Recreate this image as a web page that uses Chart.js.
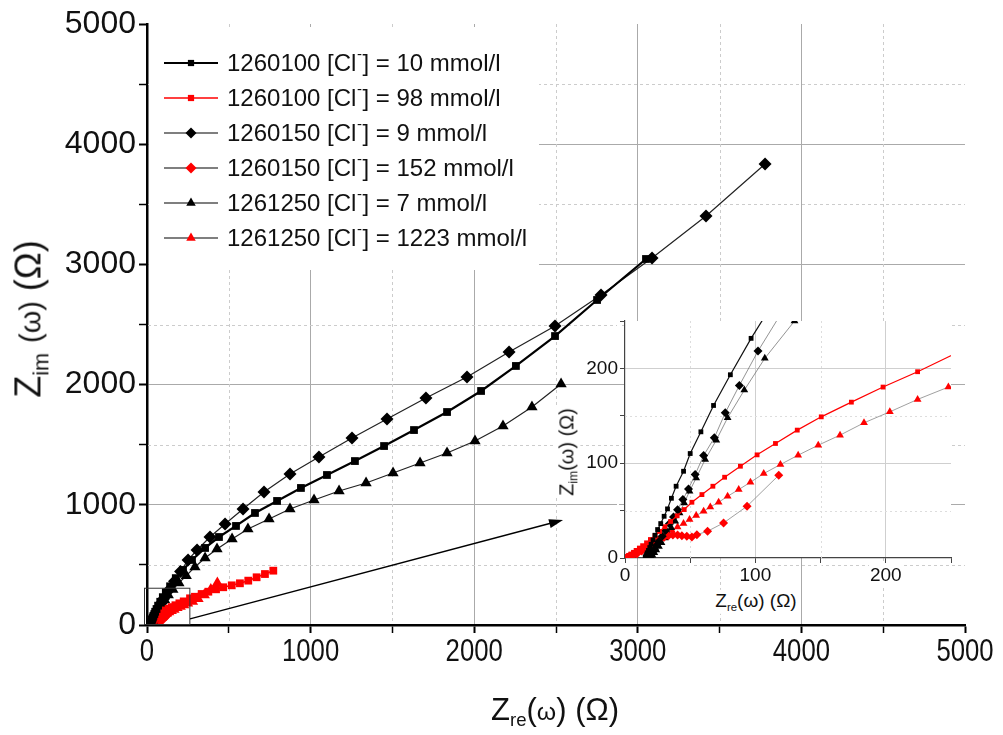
<!DOCTYPE html>
<html>
<head>
<meta charset="utf-8">
<script src="https://cdn.jsdelivr.net/npm/chart.js@4.4.1/dist/chart.umd.min.js"></script>
<style>
  body { margin: 0; background: #fff; }
  #wrap { position: relative; width: 1003px; height: 735px; overflow: hidden; }
  #main { position: absolute; left: 0; top: 0; }
  #inset { position: absolute; left: 540px; top: 300px; }
  .ttl { position: absolute; white-space: nowrap; color: #111; font-family: "Liberation Sans", Arial, sans-serif; transform: translate(-50%, -50%); line-height: 1; }
  .ttl sub { font-size: 60%; vertical-align: -0.35em; }
  .ttl .w { font-size: 80%; }
  .rot { transform: translate(-50%, -50%) rotate(-90deg); }
  .bg { background: #fff; padding: 1px 2px; }
</style>
</head>
<body>
<div id="wrap">
  <canvas id="main" width="1003" height="735"></canvas>
  <canvas id="inset" width="430" height="320"></canvas>
  <div class="ttl" style="left:555px;top:712px;font-size:31px;">Z<sub>re</sub>(<span class="w">ω</span>) (Ω)</div>
  <div class="ttl rot" style="left:31px;top:319px;font-size:36px;">Z<sub>im</sub> <span class="w">(ω)</span> (Ω)</div>
  <div class="ttl bg" style="left:756px;top:602px;font-size:19px;">Z<sub>re</sub>(ω) (Ω)</div>
  <div class="ttl rot bg" style="left:568px;top:452px;font-size:20px;">Z<sub>im</sub>(ω) (Ω)</div>
</div>
<script>
// impedance data, Z_re / Z_im in Ohm
const s1Re = [15.5, 16, 16.5, 17, 18, 19, 20, 21.5, 23, 25, 27.4, 30, 32.6, 35.6, 39.2, 44.9, 50, 58.2, 67.9, 80.8, 96.7, 115, 141, 176, 220, 275, 355, 440, 544, 660, 795, 941, 1100, 1271, 1449, 1632, 1834, 2042, 2255, 2494, 2751, 3050];
const s1Im = [1, 2, 3.5, 5.5, 8, 11, 14.5, 19, 24, 30, 36.3, 44, 51.8, 63, 75.7, 91.5, 110.2, 133.1, 160.9, 193.3, 231.7, 272, 322, 390, 458, 541, 641, 732, 824, 932, 1032, 1140, 1248, 1364, 1489, 1622, 1772, 1947, 2155, 2404, 2704, 3045];

const s2Re = [1, 1.8, 3, 4.5, 6.5, 8.5, 11, 13.5, 16.5, 19.5, 23, 26.5, 30.5, 35, 40, 45.4, 51.3, 59, 67.4, 76.4, 88.5, 101.3, 115.4, 132.1, 150.5, 173.6, 197.9, 224.4, 263, 293, 334, 375, 422, 466, 518, 568, 619, 670, 721, 772];
const s2Im = [0.8, 1.6, 2.8, 4.2, 6, 8, 10.5, 13, 16, 19.5, 23.5, 28, 33, 38.5, 44.5, 51.1, 58.8, 66.9, 75.7, 85.2, 96.8, 108.8, 120.8, 134.9, 148.9, 164.4, 180.3, 196.5, 222, 235, 258, 277, 297, 314, 330, 347, 369, 397, 424, 452];

const s3Re = [18.5, 19, 20, 21, 22.5, 24, 26, 28.5, 31, 34, 37.2, 40.3, 44.4, 48.7, 53.8, 60.3, 68.5, 76.9, 87.7, 102, 135, 168, 205, 251, 306, 385, 477, 587, 715, 874, 1051, 1253, 1467, 1705, 1956, 2213, 2494, 2775, 3087, 3417, 3778];
const s3Im = [1, 2, 3.5, 6, 9, 13, 17.5, 23, 29, 36, 43.3, 51, 61.6, 72.9, 88, 108.1, 126.8, 153.2, 182, 218.3, 292, 365, 445, 541, 624, 732, 840, 965, 1106, 1256, 1398, 1556, 1714, 1889, 2063, 2271, 2487, 2745, 3053, 3403, 3835];

const s4Re = [1.5, 3, 5.1, 9, 12.8, 16.7, 20.5, 23.8, 26.9, 30, 33.3, 36.7, 40.3, 43.6, 47.4, 51.3, 55.1, 63.3, 75.6, 93.6, 117.9];
const s4Im = [0.5, 1, 1.8, 4.2, 7.4, 10.6, 13.7, 16.5, 19.4, 21.8, 23.6, 24.3, 24.3, 23.6, 22.9, 22.2, 24.6, 28.2, 37, 54.6, 87.3];

const s5Re = [19, 20, 21, 22.5, 24, 26, 28, 30.5, 33, 35.5, 38.5, 41.8, 45.4, 49.5, 54.6, 61.5, 70, 78.7, 91.5, 107.2, 130, 158, 195, 240, 293, 355, 428, 520, 617, 746, 874, 1021, 1174, 1339, 1504, 1669, 1834, 2005, 2176, 2353, 2531];
const s5Im = [0.5, 1.5, 3, 5.5, 8.5, 12, 16, 21, 26, 32, 38.7, 47.5, 58.1, 70.4, 84.5, 103.9, 124.3, 147.9, 177.1, 210.6, 250, 295, 350, 410, 483, 557, 632, 715, 799, 882, 965, 1040, 1115, 1181, 1265, 1348, 1431, 1531, 1656, 1814, 2005];

const s6Re = [1.5, 3, 5, 7, 9, 11, 13.5, 16, 19, 22, 25, 28.5, 32, 36, 40.3, 44.9, 49.5, 54.6, 60.3, 65.4, 71.8, 78.7, 87.2, 96.2, 106.4, 119.2, 132.8, 148.2, 164.9, 183.3, 203.1, 224.4, 248, 278, 312, 350, 390, 430];
const s6Im = [0.7, 1.6, 2.8, 4, 5.5, 7, 9, 11, 13.5, 16, 19, 22, 25.5, 29, 32.7, 36.3, 40.5, 44.7, 49.3, 53.9, 58.8, 65.1, 72.2, 79.9, 89.1, 98.6, 108.5, 119, 129.6, 142.6, 154.2, 167.3, 180.3, 196, 218, 250, 295, 350];

const samples = ['1260100', '1260100', '1260150', '1260150', '1261250', '1261250'];
const chloride = ['10', '98', '9', '152', '7', '1223'];

const mainTicks = [0, 1000, 2000, 3000, 4000, 5000];
const insetTicks = [0, 100, 200];

// zoom box and arrow (data coordinates of main plot)
const zoomBox = [0, 0, 265, 310];
const arrowFrom = [263, 50];
const arrowTo = [2543, 874];

const RED = '#ff0000';
const pts = (xs, ys) => xs.map((v, i) => ({ x: v, y: ys[i] }));

const styles = [
  { shape: 'rect',    fill: '#000', line: '#000',  lw: 2.2, ilw: 1.2, iline: '#111', r: 5.5, ir: 3.4, lr: 4.4 },
  { shape: 'rect',    fill: RED,    line: RED,     lw: 1.6, ilw: 1.2, iline: RED,    r: 5.5, ir: 3.4, lr: 4.4 },
  { shape: 'rectRot', fill: '#000', line: '#222',  lw: 1.2, ilw: 0.8, iline: '#777', r: 6.5, ir: 4.5, lr: 5.5 },
  { shape: 'rectRot', fill: RED,    line: '#555',  lw: 1.0, ilw: 0.8, iline: '#888', r: 6.5, ir: 4.5, lr: 5.5 },
  { shape: 'triangle',fill: '#000', line: '#222',  lw: 1.2, ilw: 0.8, iline: '#777', r: 6.5, ir: 4.5, lr: 5.5 },
  { shape: 'triangle',fill: RED,    line: '#555',  lw: 1.0, ilw: 0.8, iline: '#888', r: 6.5, ir: 4.5, lr: 5.5 }
];
const series = [pts(s1Re, s1Im), pts(s2Re, s2Im), pts(s3Re, s3Im), pts(s4Re, s4Im), pts(s5Re, s5Im), pts(s6Re, s6Im)];

function makeSets(inset) {
  return series.map((d, i) => {
    const s = styles[i];
    return {
      label: samples[i] + ' [Cl-] = ' + chloride[i] + ' mmol/l',
      data: d,
      showLine: true,
      borderColor: inset ? s.iline : s.line,
      borderWidth: inset ? s.ilw : s.lw,
      pointStyle: s.shape,
      pointRadius: inset ? s.ir : s.r,
      pointBackgroundColor: s.fill,
      pointBorderColor: s.fill,
      pointBorderWidth: 0,
      tension: 0
    };
  });
}

function marker(ctx, shape, cx, cy, r, color) {
  ctx.fillStyle = color;
  ctx.beginPath();
  if (shape === 'rect') {
    const h = r * Math.SQRT1_2;
    ctx.rect(cx - h, cy - h, 2 * h, 2 * h);
  } else if (shape === 'rectRot') {
    ctx.moveTo(cx, cy - r); ctx.lineTo(cx + r, cy); ctx.lineTo(cx, cy + r); ctx.lineTo(cx - r, cy);
  } else {
    ctx.moveTo(cx, cy - r); ctx.lineTo(cx + r * 0.866, cy + r / 2); ctx.lineTo(cx - r * 0.866, cy + r / 2);
  }
  ctx.closePath();
  ctx.fill();
}

// minor grid, legend box with entries
const mainDecor = {
  id: 'mainDecor',
  beforeDatasetsDraw(chart) {
    const { ctx, chartArea: a, scales: { x, y } } = chart;
    ctx.save();
    ctx.strokeStyle = '#cccccc';
    ctx.lineWidth = 1;
    ctx.setLineDash([3, 3]);
    for (let v = 500; v < 5000; v += 1000) {
      const px = Math.round(x.getPixelForValue(v)) + 0.5;
      ctx.beginPath(); ctx.moveTo(px, a.top); ctx.lineTo(px, a.bottom - 1); ctx.stroke();
      const py = Math.round(y.getPixelForValue(v)) + 0.5;
      ctx.beginPath(); ctx.moveTo(a.left + 1, py); ctx.lineTo(a.right, py); ctx.stroke();
    }
    ctx.setLineDash([]);

    // legend
    ctx.fillStyle = '#fff';
    ctx.fillRect(a.left + 2, 27, 390, 243);
    const font = '24px "Liberation Sans", Arial, sans-serif';
    ctx.textBaseline = 'middle';
    for (let i = 0; i < 6; i++) {
      const cy = 63 + i * 35;
      const s = styles[i];
      ctx.strokeStyle = i < 2 ? s.line : '#555';
      ctx.lineWidth = i === 0 ? 2 : 1.4;
      ctx.beginPath(); ctx.moveTo(164, cy); ctx.lineTo(218, cy); ctx.stroke();
      marker(ctx, s.shape, 191, cy, s.lr, s.fill);
      ctx.fillStyle = '#111';
      ctx.font = font;
      let tx = 227;
      const t1 = samples[i] + ' [Cl';
      ctx.fillText(t1, tx, cy + 1);
      tx += ctx.measureText(t1).width;
      ctx.font = '15px "Liberation Sans", Arial, sans-serif';
      ctx.fillText('-', tx + 0.5, cy - 8);
      tx += ctx.measureText('-').width + 1;
      ctx.font = font;
      ctx.fillText('] = ' + chloride[i] + ' mmol/l', tx, cy + 1);
    }
    ctx.restore();
  },
  afterDatasetsDraw(chart) {
    const { ctx, scales: { x, y } } = chart;
    ctx.save();
    // zoom frame
    const x0 = x.getPixelForValue(zoomBox[0]), y0 = y.getPixelForValue(zoomBox[1]);
    const x1 = x.getPixelForValue(zoomBox[2]), y1 = y.getPixelForValue(zoomBox[3]);
    ctx.strokeStyle = '#333';
    ctx.lineWidth = 1;
    ctx.strokeRect(x0 - 2.5, y1 + 0.5, x1 - x0 + 2, y0 - y1 - 1);
    // arrow
    const ax = x.getPixelForValue(arrowFrom[0]), ay = y.getPixelForValue(arrowFrom[1]);
    const bx = x.getPixelForValue(arrowTo[0]), by = y.getPixelForValue(arrowTo[1]);
    const ang = Math.atan2(by - ay, bx - ax);
    ctx.strokeStyle = '#000';
    ctx.lineWidth = 1.3;
    ctx.beginPath(); ctx.moveTo(ax, ay); ctx.lineTo(bx - 8 * Math.cos(ang), by - 8 * Math.sin(ang)); ctx.stroke();
    ctx.fillStyle = '#000';
    ctx.beginPath();
    ctx.moveTo(bx, by);
    ctx.lineTo(bx - 14 * Math.cos(ang) + 4.5 * Math.sin(ang), by - 14 * Math.sin(ang) - 4.5 * Math.cos(ang));
    ctx.lineTo(bx - 14 * Math.cos(ang) - 4.5 * Math.sin(ang), by - 14 * Math.sin(ang) + 4.5 * Math.cos(ang));
    ctx.closePath();
    ctx.fill();
    ctx.restore();
  },
  afterDraw(chart) {
    // x tick labels in a condensed face, like the original
    const { ctx, chartArea: a, scales: { x } } = chart;
    ctx.save();
    ctx.fillStyle = '#111';
    ctx.font = '31px "Liberation Sans", Arial, sans-serif';
    ctx.textAlign = 'center';
    ctx.textBaseline = 'alphabetic';
    mainTicks.forEach(v => {
      ctx.save();
      ctx.translate(x.getPixelForValue(v), a.bottom + 36);
      ctx.scale(0.83, 1);
      ctx.fillText(String(v), 0, 0);
      ctx.restore();
    });
    ctx.restore();
  }
};

const majorGrid = c => (c.tick && c.tick.value % 1000 === 0 && c.tick.value > 0 && c.tick.value < 5000) ? '#aaaaaa' : 'rgba(0,0,0,0)';

new Chart(document.getElementById('main'), {
  type: 'scatter',
  data: { datasets: makeSets(false) },
  options: {
    responsive: false,
    animation: false,
    layout: { padding: { left: 0, top: 24, right: 38, bottom: 0 } },
    plugins: { legend: { display: false }, tooltip: { enabled: false } },
    scales: {
      x: {
        type: 'linear', min: 0, max: 5000,
        afterFit: s => { s.height = 110; },
        ticks: {
          stepSize: 500, autoSkip: false, maxRotation: 0, padding: 2, color: 'rgba(0,0,0,0)',
          font: { family: '"Liberation Sans", Arial, sans-serif', size: 31 },
          callback: v => mainTicks.includes(v) ? String(v) : ''
        },
        grid: { color: majorGrid, lineWidth: 1, tickColor: '#000', tickLength: 8, tickWidth: c => c.tick && c.tick.value % 1000 === 0 ? 2 : 1.5 },
        border: { color: '#000', width: 2.5 }
      },
      y: {
        type: 'linear', min: 0, max: 5000,
        afterFit: s => { s.width = 147; },
        ticks: {
          stepSize: 500, autoSkip: false, padding: 3, color: '#111',
          font: { family: '"Liberation Sans", Arial, sans-serif', size: 32 },
          callback: v => mainTicks.includes(v) ? String(v) : ''
        },
        grid: { color: majorGrid, lineWidth: 1, tickColor: '#000', tickLength: 8, tickWidth: c => c.tick && c.tick.value % 1000 === 0 ? 2 : 1.5 },
        border: { color: '#000', width: 2.5 }
      }
    }
  },
  plugins: [mainDecor]
});

// inset: white plot area, dashed minor grid
const insetDecor = {
  id: 'insetDecor',
  beforeDraw(chart) {
    const { ctx, chartArea: a } = chart;
    ctx.save();
    ctx.fillStyle = '#fff';
    ctx.fillRect(a.left, a.top, a.right - a.left, a.bottom - a.top);
    ctx.restore();
  },
  beforeDatasetsDraw(chart) {
    const { ctx, chartArea: a, scales: { x, y } } = chart;
    ctx.save();
    ctx.strokeStyle = '#dddddd';
    ctx.lineWidth = 1;
    ctx.setLineDash([2, 3]);
    [50, 150].forEach(v => {
      const px = Math.round(x.getPixelForValue(v)) + 0.5;
      ctx.beginPath(); ctx.moveTo(px, a.top); ctx.lineTo(px, a.bottom); ctx.stroke();
    });
    [50, 150].forEach(v => {
      const py = Math.round(y.getPixelForValue(v)) + 0.5;
      ctx.beginPath(); ctx.moveTo(a.left, py); ctx.lineTo(a.right, py); ctx.stroke();
    });
    ctx.restore();
  }
};

const insetGrid = c => (c.tick && c.tick.value % 100 === 0 && c.tick.value > 0) ? '#cfcfcf' : 'rgba(0,0,0,0)';
const insetFont = { family: '"Liberation Sans", Arial, sans-serif', size: 19 };

new Chart(document.getElementById('inset'), {
  type: 'scatter',
  data: { datasets: makeSets(true) },
  options: {
    responsive: false,
    animation: false,
    layout: { padding: { left: 0, top: 21, right: 19, bottom: 0 } },
    plugins: { legend: { display: false }, tooltip: { enabled: false } },
    scales: {
      x: {
        type: 'linear', min: 0, max: 250,
        afterFit: s => { s.height = 62; },
        ticks: {
          stepSize: 50, autoSkip: false, maxRotation: 0, padding: 1, color: '#111', font: insetFont,
          showLabelBackdrop: true, backdropColor: '#fff', backdropPadding: 1,
          callback: v => insetTicks.includes(v) ? String(v) : ''
        },
        grid: { color: insetGrid, lineWidth: 1, tickColor: '#444', tickLength: 5, tickWidth: 1 },
        border: { color: '#444', width: 1.2 }
      },
      y: {
        type: 'linear', min: 0, max: 250,
        afterFit: s => { s.width = 85; },
        ticks: {
          stepSize: 50, autoSkip: false, padding: 2, color: '#111', font: insetFont,
          showLabelBackdrop: true, backdropColor: '#fff', backdropPadding: 1,
          callback: v => insetTicks.includes(v) ? String(v) : ''
        },
        grid: { color: insetGrid, lineWidth: 1, tickColor: '#444', tickLength: 5, tickWidth: 1 },
        border: { color: '#444', width: 1.2 }
      }
    }
  },
  plugins: [insetDecor]
});
</script>
</body>
</html>
